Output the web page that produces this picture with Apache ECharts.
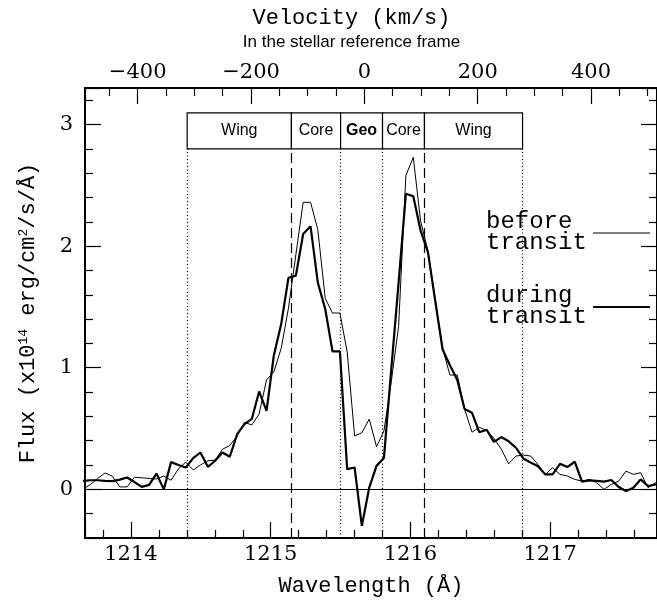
<!DOCTYPE html>
<html>
<head>
<meta charset="utf-8">
<title>Lyman alpha transit</title>
<script src="https://cdn.jsdelivr.net/npm/echarts@6/dist/echarts.min.js"></script>
<style>
  html, body { margin: 0; padding: 0; background: #fff; }
  #chart { width: 657px; height: 606px; }
</style>
</head>
<body>
<div id="chart"></div>
<script>
"use strict";

// wavelength bins (A)
var wavelength = [
  1213.657, 1213.710, 1213.762, 1213.815, 1213.867, 1213.920, 1213.972, 1214.025, 1214.077, 1214.130,
  1214.182, 1214.235, 1214.287, 1214.340, 1214.392, 1214.445, 1214.497, 1214.550, 1214.602, 1214.655,
  1214.707, 1214.760, 1214.812, 1214.865, 1214.917, 1214.970, 1215.022, 1215.075, 1215.127, 1215.180,
  1215.232, 1215.285, 1215.337, 1215.390, 1215.442, 1215.495, 1215.547, 1215.600, 1215.652, 1215.705,
  1215.757, 1215.810, 1215.862, 1215.915, 1215.967, 1216.020, 1216.072, 1216.125, 1216.177, 1216.230,
  1216.282, 1216.335, 1216.387, 1216.440, 1216.492, 1216.545, 1216.597, 1216.650, 1216.702, 1216.755,
  1216.807, 1216.860, 1216.912, 1216.965, 1217.017, 1217.070, 1217.122, 1217.175, 1217.227, 1217.280,
  1217.332, 1217.385, 1217.437, 1217.490, 1217.542, 1217.595, 1217.647, 1217.700, 1217.752, 1217.805
];

var fluxBefore = [
  0.00, 0.04, 0.09, 0.135, 0.108, 0.02, 0.02, 0.10, 0.095, 0.09,
  0.085, 0.11, 0.075, 0.17, 0.224, 0.16, 0.20, 0.235, 0.24, 0.33,
  0.36, 0.44, 0.55, 0.53, 0.62, 0.90, 0.966, 1.16, 1.49, 1.93,
  2.36, 2.36, 2.135, 1.57, 1.45, 1.45, 1.13, 0.44, 0.465, 0.578,
  0.35, 0.48, 0.88, 1.34, 2.58, 2.73, 2.21, 1.96, 1.56, 1.16,
  0.94, 0.94, 0.66, 0.47, 0.51, 0.485, 0.42, 0.33, 0.21, 0.274,
  0.282, 0.274, 0.205, 0.123, 0.178, 0.123, 0.11, 0.082, 0.068, 0.082,
  0.055, 0.00, 0.041, 0.068, 0.15, 0.123, 0.137, 0.014, 0.055, 0.05
];

var fluxDuring = [
  0.07, 0.075, 0.075, 0.07, 0.068, 0.08, 0.097, 0.06, 0.02, 0.037,
  0.13, 0.00, 0.224, 0.20, 0.18, 0.257, 0.303, 0.185, 0.235, 0.303,
  0.268, 0.454, 0.536, 0.58, 0.805, 0.646, 1.10, 1.36, 1.74, 1.757,
  2.10, 2.163, 1.70, 1.483, 1.134, 1.134, 0.166, 0.18, -0.30, 0.015,
  0.193, 0.257, 0.98, 1.70, 2.43, 2.41, 2.13, 1.95, 1.55, 1.15,
  1.02, 0.90, 0.66, 0.63, 0.47, 0.49, 0.39, 0.43, 0.395, 0.342,
  0.254, 0.22, 0.19, 0.123, 0.123, 0.21, 0.183, 0.227, 0.063, 0.074,
  0.07, 0.063, 0.077, 0.019, -0.014, 0.013, 0.082, 0.027, 0.04, 0.04
];

// region boxes at the top
var zoneEdges = [1214.402, 1215.148, 1215.500, 1215.800, 1216.100, 1216.802];
var zoneNames = ["Wing", "Core", "Geo", "Core", "Wing"];
var edgeLineTypes = ["dotted", "dashed", "dotted", "dotted", "dashed", "dotted"];
var zoneBottom = 2.8;
var zoneTop = 3.095;

var LYA = 1215.67;
var C_KMS = 299792.458;
var xMin = 1213.671;
var xMax = 1217.764;
var yMin = -0.4;
var yMax = 3.3;

var MONO = '"Liberation Mono", "DejaVu Sans Mono", monospace';
var SERIF = '"DejaVu Serif", "Liberation Serif", serif';
var SANS = '"Liberation Sans", Arial, sans-serif';

function toVelocity(lam) {
  return (lam - LYA) / LYA * C_KMS;
}

function pairs(xs, ys) {
  return xs.map(function (x, i) { return [x, ys[i]]; });
}

function plainNumber(v) {
  return String(v).replace("-", "\u2212");
}

var chart = echarts.init(document.getElementById("chart"));

var tickStyle = { color: "#000", width: 1.2 };
var axisLine = { onZero: false, lineStyle: { color: "#000", width: 2 } };
var tickLabel = { fontFamily: SERIF, fontSize: 21, color: "#000" };

var zoneAreas = zoneNames.map(function (name, i) {
  var start = { name: name, xAxis: zoneEdges[i], yAxis: zoneBottom };
  if (name === "Geo") {
    start.label = { fontWeight: "bold" };
  }
  return [start, { xAxis: zoneEdges[i + 1], yAxis: zoneTop }];
});

var edgeLines = zoneEdges.map(function (lam, i) {
  return [
    { coord: [lam, yMin], lineStyle: { type: edgeLineTypes[i] === "dashed" ? [10, 5] : [1, 2.5], width: 1.2, color: "#000" } },
    { coord: [lam, zoneBottom] }
  ];
});
edgeLines.push({ yAxis: 0, lineStyle: { type: "solid", width: 1.2, color: "#000" } });

chart.setOption({
  animation: false,
  backgroundColor: "#fff",
  grid: { left: 85, right: -1, top: 88, bottom: 68 },
  xAxis: [
    {
      type: "value",
      position: "bottom",
      min: xMin,
      max: xMax,
      splitNumber: 4,
      axisLine: axisLine,
      axisTick: { inside: true, length: 16, lineStyle: tickStyle },
      minorTick: { show: true, splitNumber: 5, length: 8, lineStyle: tickStyle },
      splitLine: { show: false },
      axisLabel: Object.assign({ margin: 6, showMinLabel: false, showMaxLabel: false, formatter: plainNumber }, tickLabel),
      name: "Wavelength (Å)",
      nameLocation: "middle",
      nameGap: 37,
      nameTextStyle: { fontFamily: MONO, fontSize: 22, color: "#000" }
    },
    {
      type: "value",
      position: "top",
      min: toVelocity(xMin),
      max: toVelocity(xMax),
      splitNumber: 5,
      axisLine: axisLine,
      axisTick: { inside: true, length: 16, lineStyle: tickStyle },
      minorTick: { show: true, splitNumber: 4, length: 8, lineStyle: tickStyle },
      splitLine: { show: false },
      axisLabel: Object.assign({ margin: 5, showMinLabel: false, showMaxLabel: false, formatter: plainNumber }, tickLabel),
      name: "{t|Velocity (km/s)}\n{s|In the stellar reference frame}",
      nameLocation: "middle",
      nameGap: 36,
      nameTextStyle: {
        padding: [0, 39, 0, 0],
        rich: {
          t: { fontFamily: MONO, fontSize: 22, color: "#000", lineHeight: 27 },
          s: { fontFamily: SANS, fontSize: 17, color: "#000", lineHeight: 20 }
        }
      }
    }
  ],
  yAxis: [
    {
      type: "value",
      position: "left",
      min: yMin,
      max: yMax,
      splitNumber: 4,
      axisLine: axisLine,
      axisTick: { inside: true, length: 16, lineStyle: tickStyle },
      minorTick: { show: true, splitNumber: 5, length: 8, lineStyle: tickStyle },
      splitLine: { show: false },
      axisLabel: Object.assign({ margin: 12, showMinLabel: false, showMaxLabel: false, formatter: plainNumber }, tickLabel),
      name: "Flux (x10{sup|14} erg/cm{sup|2}/s/Å)",
      nameLocation: "middle",
      nameGap: 45,
      nameRotate: 90,
      nameTextStyle: {
        fontFamily: MONO, fontSize: 22, color: "#000",
        rich: {
          sup: { fontFamily: MONO, fontSize: 13, color: "#000", verticalAlign: "top", padding: [0, 0, 10, 0] }
        }
      }
    },
    {
      type: "value",
      position: "right",
      min: yMin,
      max: yMax,
      splitNumber: 4,
      axisLine: axisLine,
      axisTick: { inside: true, length: 16, lineStyle: tickStyle },
      minorTick: { show: true, splitNumber: 5, length: 8, lineStyle: tickStyle },
      splitLine: { show: false },
      axisLabel: { show: false }
    }
  ],
  series: [
    {
      name: "before transit",
      type: "line",
      data: pairs(wavelength, fluxBefore),
      symbol: "none",
      clip: true,
      lineStyle: { color: "#000", width: 1 },
      z: 3,
      markArea: {
        silent: true,
        itemStyle: { color: "#fff", borderColor: "#000", borderWidth: 1.2 },
        label: { show: true, position: "inside", color: "#000", fontFamily: SANS, fontSize: 16 },
        data: zoneAreas
      },
      markLine: {
        silent: true,
        symbol: ["none", "none"],
        label: { show: false },
        data: edgeLines
      }
    },
    {
      name: "during transit",
      type: "line",
      data: pairs(wavelength, fluxDuring),
      symbol: "none",
      clip: true,
      lineStyle: { color: "#000", width: 2.2 },
      z: 4
    }
  ],
  graphic: [
    {
      type: "group",
      z: 100,
      children: [
        { type: "rect", shape: { x: 480, y: 196, width: 112, height: 148 }, style: { fill: "#fff" } },
        {
          type: "text",
          style: {
            text: "before\ntransit", x: 486, y: 232, font: '24px "Liberation Mono", monospace',
            fill: "#000", lineHeight: 21, verticalAlign: "middle"
          }
        },
        { type: "line", shape: { x1: 593, y1: 233, x2: 650, y2: 233 }, style: { stroke: "#000", lineWidth: 1 } },
        {
          type: "text",
          style: {
            text: "during\ntransit", x: 486, y: 306, font: '24px "Liberation Mono", monospace',
            fill: "#000", lineHeight: 21, verticalAlign: "middle"
          }
        },
        { type: "line", shape: { x1: 593, y1: 307, x2: 650, y2: 307 }, style: { stroke: "#000", lineWidth: 2.2 } }
      ]
    }
  ]
});
</script>
</body>
</html>
